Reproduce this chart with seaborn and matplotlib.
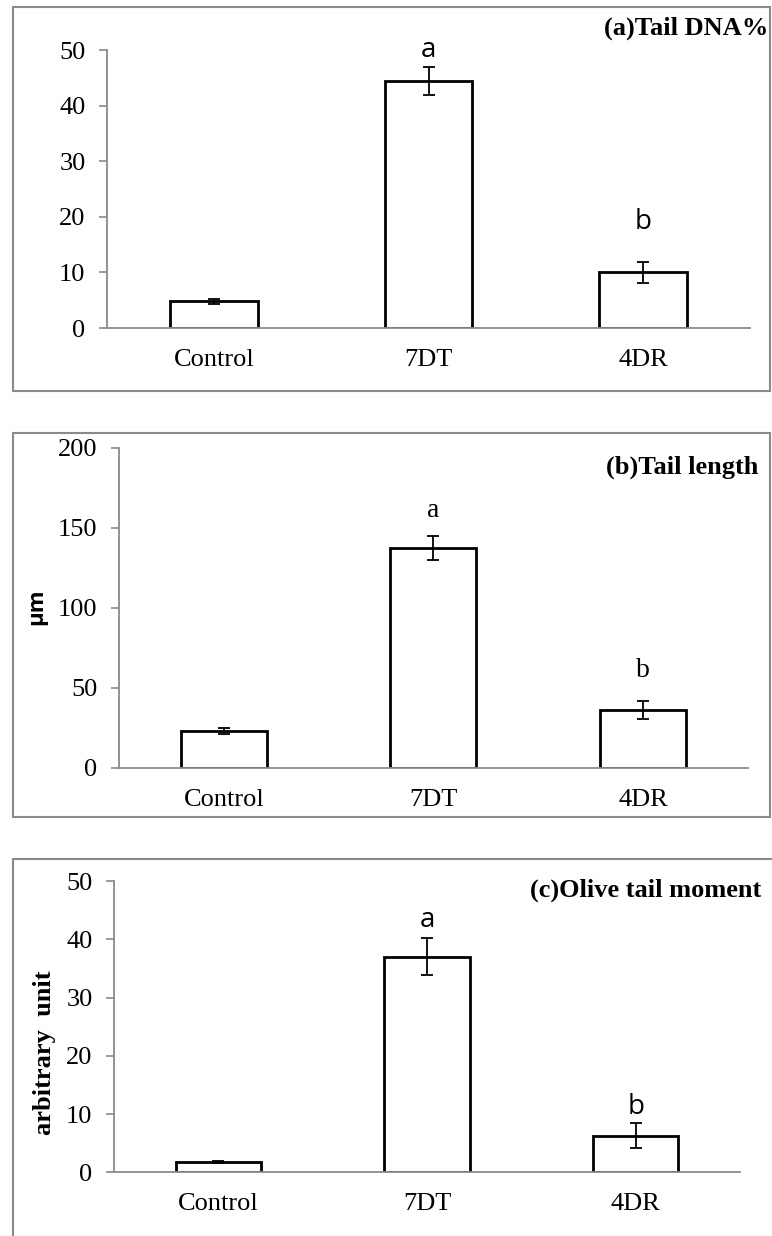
import numpy as np
import pandas as pd
import matplotlib
matplotlib.use("Agg")
import matplotlib.pyplot as plt
import seaborn as sns
from matplotlib.patches import Rectangle

# comet assay results, three endpoints
groups = ["Control", "7DT", "4DR"]

tail_dna = [4.8, 44.4, 10.0]
tail_dna_err = [0.4, 2.5, 1.9]

tail_len = [22.9, 137.5, 36.1]
tail_len_err = [1.6, 7.6, 5.5]

olive_tm = [1.8, 37.0, 6.3]
olive_tm_err = [0.2, 3.2, 2.1]

sig_letters = ["a", "b"]   # for 7DT and 4DR

sns.set_style("white")
plt.rcParams['font.family'] = ['Liberation Serif', 'DejaVu Serif']
plt.rcParams['text.color'] = 'black'

GRAY = "#8a8a8a"
fig = plt.figure(figsize=(7.72, 12.36), dpi=100)

panels = [
    dict(vals=tail_dna, errs=tail_dna_err, ymax=50, step=10, title="(a)Tail DNA%", ylabel=None,
         lfont="Open Sans", rect=[0.1386, 0.7346, 0.833, 0.2249], frame=[0.0168, 0.6837, 0.9806, 0.3107],
         title_xy=(0.9948, 0.9773), ylab_xy=None, ylab_font=None, letter_y=[50.1, 19.0]),
    dict(vals=tail_len, errs=tail_len_err, ymax=200, step=50, title="(b)Tail length", ylabel="\u03bcm",
         lfont="Liberation Serif", rect=[0.1541, 0.3789, 0.8144, 0.2589], frame=[0.0168, 0.339, 0.9806, 0.3107],
         title_xy=(0.9819, 0.6222), ylab_xy=(0.048, 0.509), ylab_font=("Open Sans", 16), letter_y=[161, 61]),
    dict(vals=olive_tm, errs=olive_tm_err, ymax=50, step=10, title="(c)Olive tail moment", ylabel="arbitrary  unit",
         lfont="Open Sans", rect=[0.1477, 0.0515, 0.8109, 0.2357], frame=[0.0168, -0.1, 1.1, 0.405],
         title_xy=(0.9858, 0.2799), ylab_xy=(0.058, 0.148), ylab_font=("Liberation Serif", 19), letter_y=[43.3, 11.2]),
]

for p in panels:
    # outer box around each panel
    fx, fy, fw, fh = p["frame"]
    fig.patches.append(Rectangle((fx, fy), fw, fh, transform=fig.transFigure,
                                 fill=False, edgecolor=GRAY, linewidth=1.5, zorder=0))

    ax = fig.add_axes(p["rect"])
    df = pd.DataFrame({"group": groups, "value": p["vals"]})
    sns.barplot(data=df, x="group", y="value", ax=ax, color="white", edgecolor="black",
                linewidth=2.0, width=0.41, errorbar=None)
    ax.errorbar(np.arange(len(groups)), p["vals"], yerr=p["errs"], fmt="none",
                ecolor="black", elinewidth=1.3, capsize=4.3, capthick=1.3, zorder=5)

    for i, lt in enumerate(sig_letters):
        ax.text(i + 1, p["letter_y"][i], lt, ha="center", va="center", fontsize=20,
                family=[p["lfont"], "DejaVu Sans"])

    ax.set_xlim(-0.5, 2.5)
    ax.set_ylim(0, p["ymax"])
    ax.set_yticks(np.arange(0, p["ymax"] + 1, p["step"]))
    ax.set_xticks([-0.5, 0.5, 1.5, 2.5], minor=True)
    ax.tick_params(axis="x", which="major", length=0, pad=15, labelsize=19, labelcolor="black")
    ax.tick_params(axis="x", which="minor", length=5, width=1.2, color=GRAY, direction="out")
    ax.tick_params(axis="y", length=5.5, width=1.2, color=GRAY, direction="out", pad=10,
                   labelsize=19, labelcolor="black", left=True)
    ax.set_xlabel("")
    ax.set_ylabel("")
    for s in ["top", "right"]:
        ax.spines[s].set_visible(False)
    for s in ["left", "bottom"]:
        ax.spines[s].set_color(GRAY)
        ax.spines[s].set_linewidth(1.3)
    ax.patch.set_alpha(0)

    fig.text(p["title_xy"][0], p["title_xy"][1], p["title"], ha="right", va="center",
             fontsize=19, fontweight="bold")
    if p["ylabel"]:
        fam, size = p["ylab_font"]
        fig.text(p["ylab_xy"][0], p["ylab_xy"][1], p["ylabel"], ha="center", va="center",
                 rotation=90, fontsize=size, fontweight="bold", family=[fam, "DejaVu Sans"])

fig.savefig("out.png", dpi=100)
